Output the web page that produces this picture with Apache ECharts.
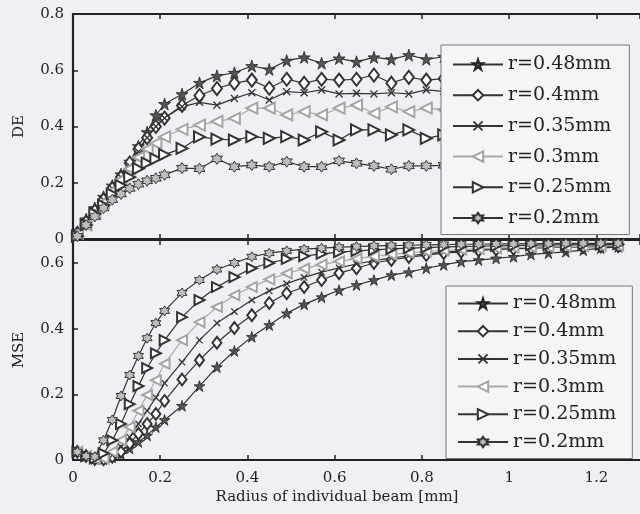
<!DOCTYPE html>
<html>
<head>
<meta charset="utf-8">
<script src="https://cdn.jsdelivr.net/npm/echarts@6.0.0/dist/echarts.min.js"></script>
<style>
html,body{margin:0;padding:0;background:#eef0f3;}
#chart{width:640px;height:514px;}
</style>
</head>
<body>
<div id="chart"></div>
<script>
// x positions (beam radius, mm)
const xs = [0.01,0.03,0.05,0.07,0.09,0.11,0.13,0.15,0.17,0.19,0.21,0.25,0.29,0.33,0.37,0.41,0.45,0.49,0.53,0.57,0.61,0.65,0.69,0.73,0.77,0.81,0.85,0.89,0.93,0.97,1.01,1.05,1.09,1.13,1.17,1.21,1.25];

const seriesNames = ['r=0.48mm','r=0.4mm','r=0.35mm','r=0.3mm','r=0.25mm','r=0.2mm'];

// DE (top panel)
const deR048 = [0.02,0.07,0.11,0.15,0.19,0.23,0.275,0.33,0.38,0.44,0.48,0.515,0.555,0.58,0.591,0.615,0.603,0.634,0.646,0.625,0.642,0.63,0.646,0.639,0.654,0.639,0.648,0.642,0.65,0.645,0.652,0.646,0.65,0.644,0.651,0.647,0.648];
const deR040 = [0.02,0.06,0.10,0.14,0.18,0.22,0.27,0.32,0.36,0.40,0.43,0.475,0.51,0.535,0.554,0.565,0.536,0.568,0.554,0.568,0.565,0.568,0.583,0.554,0.575,0.565,0.57,0.568,0.572,0.566,0.574,0.57,0.575,0.568,0.573,0.57,0.58];
const deR035 = [0.02,0.06,0.10,0.14,0.18,0.22,0.26,0.31,0.36,0.40,0.43,0.47,0.486,0.476,0.5,0.52,0.494,0.524,0.52,0.53,0.516,0.518,0.516,0.52,0.516,0.53,0.525,0.522,0.528,0.52,0.526,0.523,0.528,0.522,0.527,0.524,0.53];
const deR030 = [0.02,0.05,0.09,0.13,0.17,0.21,0.25,0.29,0.32,0.34,0.363,0.39,0.405,0.418,0.429,0.465,0.465,0.441,0.453,0.441,0.465,0.476,0.447,0.47,0.453,0.465,0.46,0.455,0.462,0.458,0.46,0.456,0.462,0.458,0.46,0.456,0.46];
const deR025 = [0.01,0.05,0.09,0.12,0.16,0.19,0.22,0.25,0.27,0.285,0.30,0.322,0.363,0.355,0.352,0.364,0.358,0.364,0.352,0.381,0.352,0.388,0.388,0.37,0.388,0.358,0.37,0.375,0.368,0.372,0.37,0.376,0.369,0.373,0.37,0.372,0.37];
const deR020 = [0.01,0.05,0.08,0.11,0.14,0.16,0.18,0.195,0.207,0.216,0.228,0.252,0.25,0.285,0.257,0.263,0.257,0.275,0.257,0.257,0.278,0.269,0.26,0.248,0.26,0.26,0.262,0.265,0.258,0.264,0.26,0.263,0.258,0.262,0.26,0.263,0.265];

// MSE (bottom panel)
const mseR048 = [0.025,0.012,0.003,0.002,0.008,0.018,0.035,0.055,0.075,0.10,0.122,0.165,0.225,0.283,0.332,0.375,0.411,0.447,0.474,0.496,0.517,0.533,0.548,0.563,0.572,0.584,0.594,0.604,0.609,0.614,0.619,0.626,0.63,0.634,0.639,0.645,0.649];
const mseR040 = [0.025,0.012,0.003,0.002,0.01,0.025,0.05,0.08,0.11,0.14,0.18,0.245,0.304,0.357,0.402,0.441,0.478,0.508,0.527,0.548,0.569,0.584,0.6,0.609,0.618,0.624,0.63,0.634,0.638,0.641,0.643,0.645,0.647,0.648,0.649,0.65,0.651];
const mseR035 = [0.025,0.012,0.003,0.003,0.015,0.04,0.07,0.11,0.15,0.19,0.234,0.298,0.365,0.417,0.452,0.487,0.515,0.537,0.556,0.572,0.585,0.597,0.607,0.615,0.622,0.628,0.633,0.637,0.64,0.643,0.645,0.647,0.649,0.65,0.651,0.652,0.653];
const mseR030 = [0.025,0.012,0.004,0.005,0.025,0.06,0.10,0.15,0.198,0.243,0.293,0.365,0.42,0.466,0.502,0.527,0.55,0.568,0.583,0.595,0.605,0.613,0.62,0.626,0.631,0.635,0.638,0.641,0.643,0.645,0.647,0.648,0.649,0.65,0.651,0.652,0.653];
const mseR025 = [0.025,0.012,0.005,0.02,0.06,0.11,0.17,0.225,0.28,0.325,0.365,0.435,0.487,0.527,0.557,0.584,0.6,0.612,0.621,0.628,0.633,0.637,0.64,0.643,0.645,0.647,0.649,0.65,0.651,0.652,0.653,0.654,0.655,0.655,0.656,0.656,0.657];
const mseR020 = [0.025,0.012,0.01,0.06,0.122,0.195,0.259,0.317,0.371,0.417,0.454,0.509,0.548,0.58,0.6,0.619,0.63,0.637,0.642,0.645,0.648,0.65,0.652,0.653,0.654,0.655,0.656,0.657,0.657,0.658,0.658,0.659,0.659,0.66,0.66,0.66,0.66];

const xTicks = ['0','0.2','0.4','0.6','0.8','1','1.2'];
const deTicks = ['0','0.2','0.4','0.6','0.8'];
const mseTicks = ['0','0.2','0.4','0.6'];

const deData = [deR048, deR040, deR035, deR030, deR025, deR020];
const mseData = [mseR048, mseR040, mseR035, mseR030, mseR025, mseR020];

const FONT = 'DejaVu Serif';
const DARK = '#222';

const STAR = 'path://M50,0 L61.8,36.2 L100,36.2 L69.1,58.8 L80.9,95.1 L50,72.4 L19.1,95.1 L30.9,58.8 L0,36.2 L38.2,36.2 Z';
const HEX = 'path://M50,0 L64.4,25 L93.3,25 L78.9,50 L93.3,75 L64.4,75 L50,100 L35.6,75 L6.7,75 L21.1,50 L6.7,25 L35.6,25 Z';
const CROSS = 'path://M0,12 L12,0 L50,38 L88,0 L100,12 L62,50 L100,88 L88,100 L50,62 L12,100 L0,88 L38,50 Z';

const styles = [
  {symbol: STAR, size: 12, rotate: 0, line: '#333', item: {color: '#555', borderColor: '#222', borderWidth: 0.8}},
  {symbol: 'emptyDiamond', size: [10, 13], rotate: 0, line: '#333', item: {color: '#333', borderWidth: 1.2}},
  {symbol: CROSS, size: 8, rotate: 0, line: '#333', item: {color: '#333'}},
  {symbol: 'emptyTriangle', size: 11, rotate: 90, line: '#aaaaaa', item: {color: '#a4a4a4', borderWidth: 1.2}},
  {symbol: 'emptyTriangle', size: 11, rotate: -90, line: '#333', item: {color: '#333', borderWidth: 1.2}},
  {symbol: HEX, size: 11, rotate: 0, line: '#333', item: {color: '#bdbdbd', borderColor: '#333', borderWidth: 1}}
];

function makeSeries(data, xi, yi, scale) {
  return data.map((arr, k) => {
    const s = styles[k];
    const size = Array.isArray(s.size) ? s.size.map(v => v * scale) : s.size * scale;
    return {
      name: seriesNames[k],
      type: 'line',
      xAxisIndex: xi,
      yAxisIndex: yi,
      data: xs.map((x, i) => [x, arr[i]]),
      symbol: s.symbol,
      symbolSize: size,
      symbolRotate: s.rotate,
      showAllSymbol: true,
      lineStyle: {color: s.line, width: 1.2},
      itemStyle: Object.assign({}, s.item),
      emphasis: {disabled: true},
      animation: false,
      z: 2
    };
  });
}

function xAxisDef(gridIndex, position, showLabels) {
  return {
    type: 'value', gridIndex: gridIndex, position: position,
    min: 0, max: 1.3, interval: 0.2,
    axisLine: {show: true, onZero: false, lineStyle: {color: DARK, width: 2.2}},
    axisTick: {show: true, inside: true, length: 5, lineStyle: {color: DARK, width: 1.5}},
    splitLine: {show: false},
    axisLabel: {
      show: showLabels, margin: 11, showMaxLabel: false,
      fontFamily: FONT, fontSize: 15, color: '#222',
      formatter: v => { const i = Math.round(v / 0.2); return (Math.abs(v - i * 0.2) < 1e-6 && i < xTicks.length) ? xTicks[i] : ''; }
    }
  };
}

function yAxisDef(gridIndex, max, name, ticks) {
  return {
    type: 'value', gridIndex: gridIndex, position: 'left',
    min: 0, max: max, interval: 0.2,
    name: name, nameLocation: 'middle', nameRotate: 90, nameGap: 46,
    nameTextStyle: {fontFamily: FONT, fontSize: 15, color: '#222'},
    axisLine: {show: true, onZero: false, lineStyle: {color: DARK, width: 2.2}},
    axisTick: {show: true, inside: true, length: 5, lineStyle: {color: DARK, width: 1.5}},
    splitLine: {show: false},
    axisLabel: {
      margin: 9, showMaxLabel: name === 'DE',
      fontFamily: FONT, fontSize: 15, color: '#222',
      formatter: v => { const i = Math.round(v / 0.2); return (Math.abs(v - i * 0.2) < 1e-6 && i < ticks.length) ? ticks[i] : ''; }
    }
  };
}

function legendDef(left, top, gap, padding) {
  return {
    data: seriesNames,
    orient: 'vertical',
    left: left, top: top,
    itemWidth: 50, itemHeight: 13, itemGap: gap,
    padding: padding,
    backgroundColor: '#f4f5f7',
    borderColor: '#777', borderWidth: 1,
    selectedMode: false,
    textStyle: {fontFamily: FONT, fontSize: 19, color: '#222'},
    z: 5
  };
}

const chart = echarts.init(document.getElementById('chart'), null, {renderer: 'canvas'});
chart.setOption({
  backgroundColor: '#eef0f3',
  animation: false,
  grid: [
    {left: 73, top: 14, height: 225, right: -15},
    {left: 73, top: 240, height: 220, right: -15}
  ],
  xAxis: [
    xAxisDef(0, 'bottom', false),
    xAxisDef(0, 'top', false),
    xAxisDef(1, 'bottom', true),
    xAxisDef(1, 'top', false)
  ],
  yAxis: [
    yAxisDef(0, 0.8, 'DE', deTicks),
    yAxisDef(1, 0.67, 'MSE', mseTicks)
  ],
  legend: [
    legendDef(441, 45, 11.7, [10, 18, 7, 11]),
    legendDef(446, 286, 8.7, [8, 16, 7, 11])
  ],
  graphic: [{
    type: 'text', x: 337, y: 497,
    style: {text: 'Radius of individual beam [mm]', font: '15px "DejaVu Serif"', fill: '#222', align: 'center', verticalAlign: 'middle'}
  }],
  series: makeSeries(deData, 0, 0, 1).concat(makeSeries(mseData, 2, 1, 0.9))
});
</script>
</body>
</html>
